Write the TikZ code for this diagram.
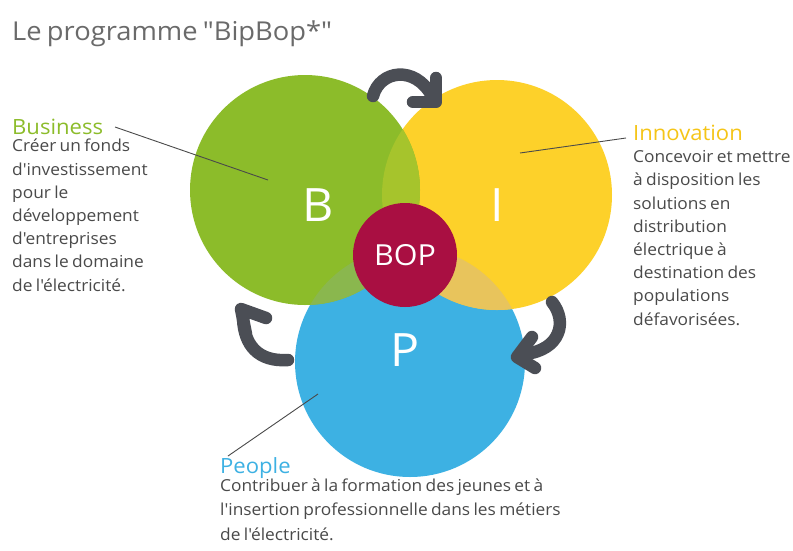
\documentclass[tikz,border=0pt]{standalone}
\usepackage{fontspec}
\newfontfamily\osf{Open Sans}[WordSpace=0.75, FakeStretch=1.05]
\definecolor{bgreen}{HTML}{8CBC2A}
\definecolor{byellow}{HTML}{FDD12A}
\definecolor{bblue}{HTML}{3DB1E3}
\definecolor{gy}{HTML}{A6C42C}
\definecolor{gb}{HTML}{8AB74E}
\definecolor{yb}{HTML}{E8C45C}
\definecolor{bred}{HTML}{A90F42}
\definecolor{darrow}{HTML}{4B4E55}
\definecolor{tgrey}{HTML}{4A4A4A}
\definecolor{ttitle}{HTML}{6A6A6A}
\definecolor{tyellow}{HTML}{F5C518}
\begin{document}
\begin{tikzpicture}[x=1pt,y=-1pt,
  disc/.style={circle, minimum size=230pt, inner sep=0pt},
  letter/.style={text=white, font=\osf\fontsize{46}{46}\selectfont},
  head/.style={anchor=base west, inner sep=0pt, font=\osf\fontsize{21}{21}\selectfont},
  body/.style={anchor=base west, inner sep=0pt, align=left, text=tgrey, font=\osf\fontsize{16.5}{23.2}\selectfont},
  leader/.style={draw=tgrey, line width=0.9pt},
  arr/.style={draw=darrow, line width=12.5pt, line cap=round, line join=round}]
\useasboundingbox (0,0) rectangle (793,550);
\fill[white] (0,0) rectangle (793,550);
% title
\node[anchor=base west, inner sep=0pt, text=ttitle, font=\osf\fontsize{26}{26}\selectfont] (title) at (12,40) {Le programme "BipBop*"};
% circles
\node[disc, fill=bblue] (cp) at (410,362) {};
\node[disc, fill=byellow] (ci) at (497,195) {};
\node[disc, fill=bgreen] (cb) at (305,190) {};
% overlaps
\begin{scope}
  \clip (305,190) circle[radius=115pt];
  \fill[gy] (497,195) circle[radius=115pt];
\end{scope}
\begin{scope}
  \clip (305,190) circle[radius=115pt];
  \fill[gb] (410,362) circle[radius=115pt];
\end{scope}
\begin{scope}
  \clip (497,195) circle[radius=115pt];
  \fill[yb] (410,362) circle[radius=115pt];
\end{scope}
\node[circle, minimum size=104pt, inner sep=0pt, fill=bred, text=white, font=\osf\fontsize{29}{29}\selectfont] (bop) at (405,255) {BOP};
\node[letter] (lb) at (318,205) {B};
\node[letter] (li) at (497,205) {I};
\node[letter] (lp) at (405,350) {P};
% arrows
\draw[arr] (373,96) .. controls (380,70) and (415,65) .. (432,96);
\draw[arr] (413,102) -- (436,102) -- (436,78);
\draw[arr] (288,360) .. controls (258,362) and (244,345) .. (243,318);
\draw[arr] (266,318) -- (241,309) -- (246,334);
\draw[arr] (552,302) .. controls (568,322) and (560,350) .. (525,354);
\draw[arr] (532,337) -- (517,357) -- (535,368);
% labels (body nodes: base = last line baseline)
\node[head, text=bgreen] (hb) at (12,134) {Business};
\node[body] (tb) at (12,291) {Créer un fonds\\d'investissement\\pour le\\développement\\d'entreprises\\dans le domaine\\de l'électricité.};
\node[head, text=tyellow] (hi) at (633,140) {Innovation};
\node[body] (ti) at (633,325) {Concevoir et mettre\\à disposition les\\solutions en\\distribution\\électrique à\\destination des\\populations\\défavorisées.};
\node[head, text=bblue] (hp) at (220,473) {People};
\node[body, font=\osf\fontsize{16.5}{24.3}\selectfont] (tp) at (220,540) {Contribuer à la formation des jeunes et à\\l'insertion professionnelle dans les métiers\\de l'électricité.};
% leaders
\coordinate (sb) at (115,127);
\coordinate (eb) at (268,180);
\coordinate (si) at (626,138);
\coordinate (ei) at (520,153);
\coordinate (sp) at (228,456);
\coordinate (ep) at (318,394);
\draw[leader] (sb) -- (eb);
\draw[leader] (si) -- (ei);
\draw[leader] (sp) -- (ep);
\end{tikzpicture}
\end{document}
